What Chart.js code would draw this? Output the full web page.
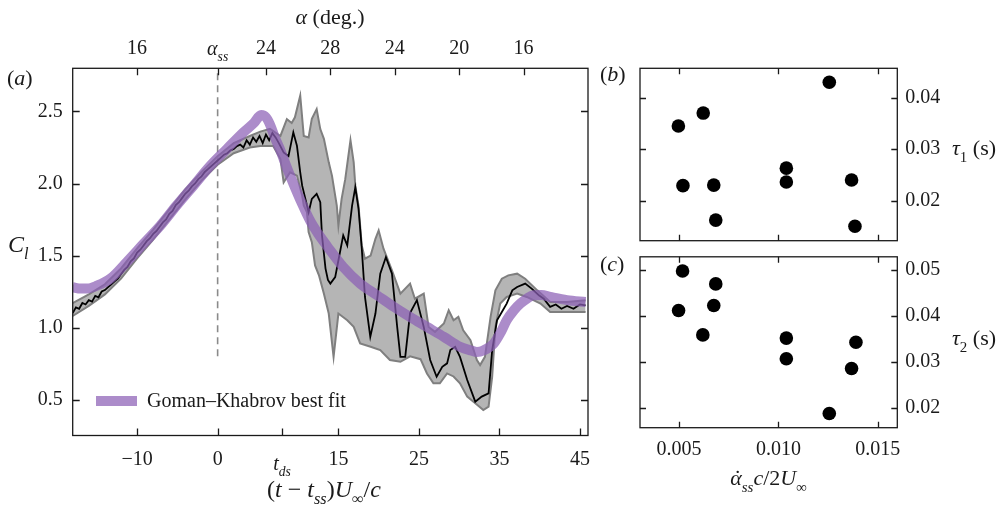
<!DOCTYPE html>
<html>
<head>
<meta charset="utf-8">
<script src="https://cdn.jsdelivr.net/npm/chart.js@4.4.0/dist/chart.umd.min.js"></script>
<style>
body { margin: 0; background: #fff; width: 1008px; height: 507px; overflow: hidden; position: relative; }
.box { position: absolute; }
</style>
</head>
<body>
<div class="box" style="left:0;top:0;width:590px;height:507px"><canvas id="chartA"></canvas></div>
<div class="box" style="left:590px;top:0;width:418px;height:250px"><canvas id="chartB"></canvas></div>
<div class="box" style="left:590px;top:250px;width:418px;height:257px"><canvas id="chartC"></canvas></div>
<script>
// ---- panel (a) data : lift coefficient vs convective time
const meanT = [-18.0, -17.6, -17.2, -16.8, -16.4, -16.0, -15.6, -15.2, -14.8, -14.4, -14.0, -13.6, -13.2, -12.8, -12.4, -12.0,
  -11.6, -11.2, -10.8, -10.4, -10.0, -9.6, -9.2, -8.8, -8.4, -8.0, -7.6, -7.2, -6.8, -6.4, -6.0, -5.6, -5.2, -4.8, -4.4,
  -4.0, -3.6, -3.2, -2.8, -2.4, -2.0, -1.6, -1.2, -0.8, -0.4, 0.0, 0.4, 0.8, 1.2, 1.6, 2.0, 2.4, 2.8, 3.2, 3.6, 4.0, 4.4,
  4.8, 5.2, 5.6, 6.0, 6.4, 6.8, 7.2, 7.6, 8.2, 8.8, 9.4, 9.85, 10.26, 10.5, 10.9, 11.3, 11.7, 12.3, 12.75, 12.96,
  13.4, 13.7, 14.0, 14.6, 15.2, 15.6, 16.1, 16.7, 17.1, 17.5, 17.9, 18.3, 18.96, 19.6, 20.2, 20.9, 21.65, 22.3, 22.7,
  23.3, 23.9, 24.75, 25.6, 26.4, 27.2, 27.9, 28.5, 28.9, 29.5, 30.1, 31.0, 32.0, 32.8, 33.65, 34.1, 34.7, 35.3, 35.9,
  36.6, 37.2, 38.2, 39.0, 39.9, 40.5, 41.3, 42.0, 42.7, 43.4, 44.2, 45.0, 45.7];
const meanCl = [1.10, 1.14, 1.13, 1.17, 1.16, 1.19, 1.18, 1.22, 1.21, 1.25, 1.26, 1.28, 1.30, 1.32, 1.34, 1.37,
  1.40, 1.42, 1.46, 1.48, 1.52, 1.54, 1.57, 1.60, 1.62, 1.65, 1.67, 1.70, 1.73, 1.75, 1.79, 1.81, 1.85, 1.87, 1.90,
  1.93, 1.95, 1.98, 2.00, 2.03, 2.05, 2.08, 2.10, 2.12, 2.14, 2.16, 2.18, 2.20, 2.21, 2.23, 2.24, 2.26, 2.27, 2.25, 2.30,
  2.27, 2.32, 2.29, 2.33, 2.28, 2.34, 2.30, 2.35, 2.32, 2.28, 2.216, 2.19, 2.355, 2.262, 2.078, 1.985, 1.893, 1.80,
  1.893, 1.928, 1.87, 1.64, 1.409, 1.33, 1.305, 1.35, 1.524, 1.64, 1.57, 1.847, 1.974, 1.824, 1.55, 1.212, 0.935,
  1.097, 1.374, 1.489, 1.374, 1.004, 0.796, 0.796, 1.10, 1.19, 1.004, 0.774, 0.658, 0.727, 0.751, 0.843, 0.866,
  0.796, 0.635, 0.485, 0.52, 0.543, 0.843, 1.05, 1.108, 1.166, 1.258, 1.281, 1.305, 1.27, 1.224, 1.20, 1.143, 1.16,
  1.13, 1.15, 1.13, 1.16, 1.154];

const upperT = [-18, -16, -14, -12, -10, -8, -6, -4, -2, 0, 2, 4, 5.3, 6.5, 7.8, 8.6, 9.2, 9.6, 10.26, 10.7, 11.3,
  11.7, 12.3, 12.75, 13.2, 13.8, 14.2, 14.4, 14.8, 15.0, 15.4, 15.85, 16.5, 16.9, 17.1, 17.5, 17.9, 18.3, 19.0, 19.6,
  20.0, 20.6, 21.65, 22.7, 23.9, 24.5, 25.6, 26.2, 27.0, 28.1, 28.7, 29.3, 29.9, 30.5, 31.4, 32.2, 32.6, 33.2, 33.9,
  34.5, 35.3, 36.1, 37.2, 38.2, 39.7, 41.3, 43.4, 45.7];
const upperCl = [1.17, 1.23, 1.30, 1.41, 1.55, 1.68, 1.82, 1.96, 2.08, 2.19, 2.28, 2.33, 2.36, 2.38, 2.33, 2.447,
  2.42, 2.46, 2.61, 2.33, 2.32, 2.45, 2.517, 2.378, 2.31, 2.147, 2.055, 1.985, 1.847, 1.708, 1.893, 2.03, 2.30, 2.147,
  1.985, 1.847, 1.57, 1.478, 1.50, 1.616, 1.674, 1.547, 1.397, 1.235, 1.305, 1.20, 1.235, 1.004, 0.97, 1.028, 1.12,
  1.05, 1.074, 0.98, 0.912, 0.774, 0.739, 0.796, 1.074, 1.258, 1.339, 1.362, 1.374, 1.339, 1.258, 1.177, 1.177, 1.19];

const lowerT = [-18, -16, -14, -12, -10, -8, -6, -4, -2, 0, 2, 4, 5.3, 6.9, 7.8, 8.2, 9.0, 9.85, 10.5, 10.7, 11.1,
  11.3, 11.7, 12.1, 12.6, 13.2, 13.8, 14.4, 15.0, 16.1, 16.9, 17.7, 19.0, 20.2, 21.4, 22.7, 23.9, 25.2, 26.0, 26.8,
  27.6, 28.5, 29.3, 30.1, 31.0, 32.0, 33.0, 33.65, 34.1, 34.5, 35.1, 35.9, 37.2, 38.4, 40.1, 41.3, 43.4, 45.7];
const lowerCl = [1.08, 1.15, 1.23, 1.34, 1.48, 1.61, 1.75, 1.89, 2.02, 2.13, 2.21, 2.25, 2.26, 2.26, 2.17, 2.008,
  2.078, 2.055, 1.916, 1.847, 1.80, 1.662, 1.593, 1.431, 1.36, 1.235, 1.097, 0.796, 1.097, 1.05, 1.004, 0.889, 0.866,
  0.843, 0.774, 0.762, 0.80, 0.78, 0.681, 0.612, 0.612, 0.681, 0.66, 0.612, 0.52, 0.474, 0.427, 0.45, 0.658, 1.004,
  1.166, 1.212, 1.235, 1.212, 1.166, 1.108, 1.108, 1.108];

// Goman-Khabrov best fit
const fitT = [-18, -17, -16.2, -15, -13.3, -11.3, -9.2, -7.1, -5.1, -3.0, -0.9, 1.15, 3.2, 4.5, 5.4, 6.0, 6.5, 7.1,
  7.8, 8.6, 9.4, 10.4, 11.5, 12.5, 13.6, 15.6, 17.7, 19.8, 21.9, 23.9, 26.0, 28.1, 30.1, 31.5, 32.2, 33.0, 34.3, 35.2,
  35.9, 36.8, 37.6, 38.4, 39.2, 40.2, 41.3, 43.4, 45.7];
const fitCl = [1.28, 1.27, 1.27, 1.29, 1.34, 1.454, 1.582, 1.708, 1.847, 1.985, 2.124, 2.24, 2.355, 2.42, 2.475,
  2.46, 2.41, 2.32, 2.23, 2.11, 2.0, 1.87, 1.74, 1.65, 1.565, 1.42, 1.305, 1.224, 1.143, 1.073, 1.004, 0.935, 0.866,
  0.84, 0.83, 0.84, 0.889, 0.97, 1.05, 1.12, 1.166, 1.20, 1.224, 1.225, 1.212, 1.19, 1.177];

// dashed marker at t = t_ss
const ssLineT = [0, 0];
const ssLineCl = [0.8, 2.8];

// axis ticks
const timeTicks = [-10, 0, 8, 15, 25, 35, 45];
const timeLabels = ['\u221210', '0', '', '15', '25', '35', '45'];
const alphaTicks = [-10, 0, 6, 14, 22, 30, 38];
const alphaLabels = ['16', '', '24', '28', '24', '20', '16'];
const clTicks = [0.5, 1.0, 1.5, 2.0, 2.5];

// ---- panels (b) and (c) : time constants vs reduced pitch rate
const rateB = [0.00497, 0.00622, 0.0052, 0.00675, 0.00685, 0.0104, 0.0104, 0.01256, 0.01368, 0.01385];
const tau1 = [0.0345, 0.037, 0.0229, 0.023, 0.0162, 0.0263, 0.0236, 0.043, 0.024, 0.015];
const rateC = [0.00518, 0.00498, 0.00685, 0.00675, 0.0062, 0.0104, 0.0104, 0.01256, 0.01368, 0.0139];
const tau2 = [0.0498, 0.0412, 0.047, 0.0423, 0.0359, 0.0352, 0.0307, 0.0188, 0.0286, 0.0343];
const rateTicks = [0.005, 0.010, 0.015];
const tau1Ticks = [0.02, 0.03, 0.04];
const tau2Ticks = [0.02, 0.03, 0.04, 0.05];

const serif = '"Liberation Serif", "Times New Roman", Times, "DejaVu Serif", serif';
const ink = '#1a1a1a';

function pts(xs, ys) {
    return xs.map((x, i) => ({ x: x, y: ys[i] }));
}

// draws text made of pieces: '' normal, 'i' italic, 's' subscript, 'si' italic subscript,
// 'd' = dot put over the piece before it
function drawRich(ctx, segs, x, y, size, align) {
    const parts = segs.map(([t, st]) => {
        const sub = st.includes('s');
        const fs = sub ? size * 0.68 : size;
        const font = (st.includes('i') ? 'italic ' : '') + fs + 'px ' + serif;
        ctx.font = font;
        return { t: t, font: font, w: st === 'd' ? 0 : ctx.measureText(t).width, dy: sub ? size * 0.3 : 0, dot: st === 'd' };
    });
    const total = parts.reduce((s, p) => s + p.w, 0);
    let cx = align === 'left' ? x : x - total / 2;
    ctx.textBaseline = 'alphabetic';
    let prev = null;
    parts.forEach(p => {
        ctx.font = p.font;
        if (p.dot) {
            ctx.textAlign = 'center';
            ctx.fillText(p.t, prev.x + prev.w / 2 + size * 0.08, y + size * 0.02);
            return;
        }
        ctx.textAlign = 'left';
        ctx.fillText(p.t, cx, y + p.dy);
        prev = { x: cx, w: p.w };
        cx += p.w;
    });
}

// frame, inward tick marks and extra labels
const decor = {
    id: 'decor',
    afterDraw(chart, args, opts) {
        const ctx = chart.ctx;
        const a = chart.chartArea;
        const L = opts.tickLen || 7;
        ctx.save();
        ctx.strokeStyle = ink;
        ctx.lineWidth = 1.3;
        ctx.beginPath();
        Object.entries(opts.sides || {}).forEach(([id, sides]) => {
            const s = chart.scales[id];
            s.ticks.forEach(t => {
                const p = Math.round(s.getPixelForValue(t.value)) + 0.5;
                sides.forEach(side => {
                    if (side === 'bottom') { ctx.moveTo(p, a.bottom); ctx.lineTo(p, a.bottom - L); }
                    if (side === 'top') { ctx.moveTo(p, a.top); ctx.lineTo(p, a.top + L); }
                    if (side === 'left') { ctx.moveTo(a.left, p); ctx.lineTo(a.left + L, p); }
                    if (side === 'right') { ctx.moveTo(a.right, p); ctx.lineTo(a.right - L, p); }
                });
            });
        });
        ctx.stroke();
        ctx.strokeRect(a.left, a.top, a.right - a.left, a.bottom - a.top);

        if (opts.swatch) {
            const sw = opts.swatch;
            ctx.fillStyle = sw.color;
            ctx.fillRect(sw.x, sw.y, sw.w, sw.h);
        }
        ctx.fillStyle = ink;
        (opts.texts || []).forEach(tx => {
            const x = typeof tx.x === 'function' ? tx.x(chart) : tx.x;
            drawRich(ctx, tx.segs, x, tx.y, tx.size, tx.align);
        });
        ctx.restore();
    }
};

function tickFont() {
    return { family: serif, size: 20 };
}

// fixed scale boxes so the plot areas land where the figure has them
function fixSize(prop, n) {
    return s => {
        s[prop] = n;
        s.paddingLeft = 0; s.paddingRight = 0; s.paddingTop = 0; s.paddingBottom = 0;
    };
}

const fitColor = 'rgba(140,96,182,0.72)';

//---------------------------------------------------------------------------------
// panel (a)
new Chart(document.getElementById('chartA'), {
    type: 'line',
    data: {
        datasets: [
            { data: pts(fitT, fitCl), borderColor: fitColor, borderWidth: 10, pointRadius: 0, cubicInterpolationMode: 'monotone', fill: false },
            { data: pts(meanT, meanCl), borderColor: '#000', borderWidth: 1.8, pointRadius: 0, tension: 0, fill: false },
            { data: pts(ssLineT, ssLineCl), borderColor: '#8a8a8a', borderWidth: 1.6, borderDash: [7, 5], pointRadius: 0, fill: false },
            { data: pts(upperT, upperCl), borderColor: '#7f7f7f', borderWidth: 2, backgroundColor: '#b5b5b5', fill: '+1', pointRadius: 0, tension: 0 },
            { data: pts(lowerT, lowerCl), borderColor: '#7f7f7f', borderWidth: 2, pointRadius: 0, fill: false, tension: 0 }
        ]
    },
    plugins: [decor],
    options: {
        responsive: true,
        maintainAspectRatio: false,
        animation: false,
        events: [],
        layout: { padding: { left: 0, right: 2, top: 0, bottom: 0 } },
        plugins: {
            legend: { display: false },
            tooltip: { enabled: false },
            filler: { drawTime: 'beforeDatasetsDraw' },
            decor: {
                tickLen: 7,
                sides: { x: ['bottom'], xTop: ['top'], y: ['left', 'right'] },
                swatch: { color: fitColor, x: 96, y: 396, w: 41, h: 10 },
                texts: [
                    { segs: [['(', ''], ['a', 'i'], [')', '']], x: 7, y: 85, size: 22, align: 'left' },
                    { segs: [['\u03B1', 'i'], [' (deg.)', '']], x: 330, y: 24, size: 22 },
                    { segs: [['\u03B1', 'i'], ['ss', 'si']], x: c => c.scales.xTop.getPixelForValue(0), y: 55, size: 20 },
                    { segs: [['t', 'i'], ['ds', 'si']], x: c => c.scales.x.getPixelForValue(8), y: 470, size: 20 },
                    { segs: [['C', 'i'], ['l', 'si']], x: 8, y: 252, size: 24, align: 'left' },
                    { segs: [['(', ''], ['t', 'i'], [' \u2212 ', ''], ['t', 'i'], ['ss', 'si'], [')', ''], ['U', 'i'], ['\u221E', 's'], ['/', ''], ['c', 'i']], x: 324, y: 497, size: 24 },
                    { segs: [['Goman\u2013Khabrov best fit', '']], x: 147, y: 407, size: 20, align: 'left' }
                ]
            }
        },
        scales: {
            x: {
                type: 'linear', position: 'bottom', min: -18, max: 46,
                grid: { display: false, drawTicks: false }, border: { display: false },
                ticks: { font: tickFont(), color: ink, padding: 12, maxRotation: 0, autoSkip: false, callback: (v, i) => timeLabels[i] },
                afterBuildTicks: s => { s.ticks = timeTicks.map(v => ({ value: v })); },
                afterFit: fixSize('height', 71.5)
            },
            xTop: {
                type: 'linear', position: 'top', min: -18, max: 46,
                grid: { display: false, drawTicks: false }, border: { display: false },
                ticks: { font: tickFont(), color: ink, padding: 8, maxRotation: 0, autoSkip: false, callback: (v, i) => alphaLabels[i] },
                afterBuildTicks: s => { s.ticks = alphaTicks.map(v => ({ value: v })); },
                afterFit: fixSize('height', 68.3)
            },
            y: {
                type: 'linear', position: 'left', min: 0.25, max: 2.8,
                grid: { display: false, drawTicks: false }, border: { display: false },
                ticks: { font: tickFont(), color: ink, padding: 10, callback: v => v.toFixed(1) },
                afterBuildTicks: s => { s.ticks = clTicks.map(v => ({ value: v })); },
                afterFit: fixSize('width', 72.7)
            }
        }
    }
});

//---------------------------------------------------------------------------------
// panels (b) and (c)
function scatterPanel(canvasId, xs, ys, yMin, yMax, yTicks, showX, extra) {
    return new Chart(document.getElementById(canvasId), {
        type: 'scatter',
        data: {
            datasets: [{ data: pts(xs, ys), backgroundColor: '#000', borderWidth: 0, pointRadius: 6.8 }]
        },
        plugins: [decor],
        options: {
            responsive: true,
            maintainAspectRatio: false,
            animation: false,
            events: [],
            layout: { padding: extra.padding },
            plugins: {
                legend: { display: false },
                tooltip: { enabled: false },
                decor: {
                    tickLen: 6,
                    sides: { x: ['bottom', 'top'], y: ['left', 'right'] },
                    texts: extra.texts
                }
            },
            scales: {
                x: {
                    type: 'linear', position: 'bottom', min: 0.00304, max: 0.01598,
                    grid: { display: false, drawTicks: false }, border: { display: false },
                    ticks: { display: showX, font: tickFont(), color: ink, padding: 10, maxRotation: 0, autoSkip: false, callback: v => v.toFixed(3) },
                    afterBuildTicks: s => { s.ticks = rateTicks.map(v => ({ value: v })); },
                    afterFit: fixSize('height', extra.xHeight)
                },
                y: {
                    type: 'linear', position: 'right', min: yMin, max: yMax,
                    grid: { display: false, drawTicks: false }, border: { display: false },
                    ticks: { font: tickFont(), color: ink, padding: 8, callback: v => v.toFixed(2) },
                    afterBuildTicks: s => { s.ticks = yTicks.map(v => ({ value: v })); },
                    afterFit: fixSize('width', 110.7)
                }
            }
        }
    });
}

scatterPanel('chartB', rateB, tau1, 0.0122, 0.0457, tau1Ticks, false, {
    padding: { left: 50, top: 68.3, right: 0, bottom: 0 },
    xHeight: 9.3,
    texts: [
        { segs: [['(', ''], ['b', 'i'], [')', '']], x: 10, y: 81, size: 22, align: 'left' },
        { segs: [['\u03C4', 'i'], ['1', 's'], [' (s)', '']], x: 362, y: 155, size: 22, align: 'left' }
    ]
});

scatterPanel('chartC', rateC, tau2, 0.0157, 0.0529, tau2Ticks, true, {
    padding: { left: 50, top: 5, right: 0, bottom: 0 },
    xHeight: 79.3,
    texts: [
        { segs: [['(', ''], ['c', 'i'], [')', '']], x: 10, y: 21, size: 22, align: 'left' },
        { segs: [['\u03C4', 'i'], ['2', 's'], [' (s)', '']], x: 362, y: 95, size: 22, align: 'left' },
        { segs: [['\u03B1', 'i'], ['\u02D9', 'd'], ['ss', 'si'], ['c', 'i'], ['/', ''], ['2', ''], ['U', 'i'], ['\u221E', 's']], x: 178.5, y: 235, size: 22 }
    ]
});
</script>
</body>
</html>
